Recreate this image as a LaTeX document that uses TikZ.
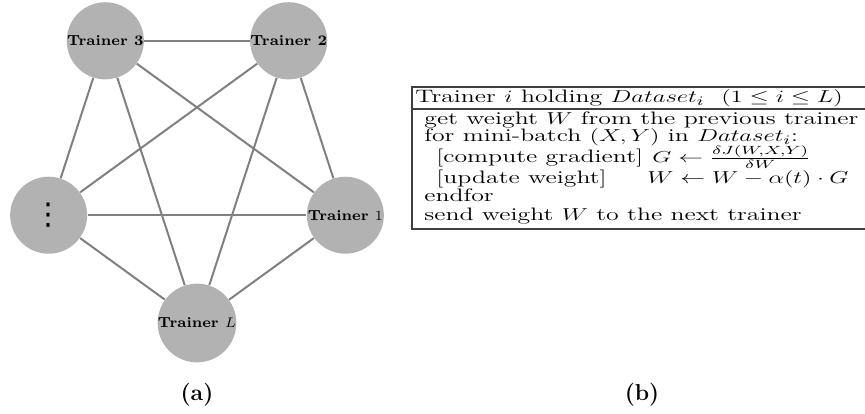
\documentclass[tikz,border=0pt]{standalone}
\usepackage{xcolor}
\usepackage{fontspec}
\usepackage{tikz}
\usetikzlibrary{positioning, calc}
\newfontfamily\dotsfont{DejaVu Sans}
\tikzstyle{trainer} = [circle, fill=black!30, minimum size=38.5pt, inner sep=0pt, font=\fontsize{7.3}{9}\selectfont\bfseries]
\tikzstyle{link} = [draw=black!50, line width=1pt]
\tikzstyle{row} = [anchor=base west, inner sep=0pt, font=\fontsize{12.5}{10}\selectfont]
\tikzstyle{frame} = [draw=black!75, line width=0.6pt]
\tikzstyle{caption} = [font=\fontsize{11.5}{13}\selectfont\bfseries]
\newcommand{\rowtext}[1]{\scalebox{1.03}[0.72]{#1}}

\begin{document}
\begin{tikzpicture}[x=0.5pt, y=0.5pt]
    \useasboundingbox (0,0) rectangle (865,413);

    % Trainers
    \coordinate (centre) at (197,246);
    \node[trainer] (tL) at ($(centre)+(-90:156)$) {Trainer $L$};
    \node[trainer] (t1) at ($(centre)+(-18:156)$) {Trainer $1$};
    \node[trainer] (t2) at ($(centre)+(54:156)$) {Trainer 2};
    \node[trainer] (t3) at ($(centre)+(126:156)$) {Trainer 3};
    \node[trainer, font=\fontsize{15}{17}\dotsfont] (tdots) at ($(centre)+(198:156)$) {⋮};

    % Links
    \draw[link] (t3) -- (t2);
    \draw[link] (t3) -- (tdots);
    \draw[link] (t3) -- (tL);
    \draw[link] (t3) -- (t1);
    \draw[link] (t2) -- (tdots);
    \draw[link] (t2) -- (tL);
    \draw[link] (t2) -- (t1);
    \draw[link] (tdots) -- (t1);
    \draw[link] (tdots) -- (tL);
    \draw[link] (tL) -- (t1);

    % Algorithm box
    \coordinate (boxtop) at (412,326);
    \coordinate (boxbot) at (412,184);
    \draw[frame] (866,326) -- (boxtop) -- (boxbot) -- (866,184);
    \draw[frame] (412,304) -- (866,304);

    \node[row] (head) at (415,310) {\rowtext{Trainer $i$ holding $Dataset_i$\ \ $(1 \le i \le L)$}};
    \node[row] (get) at (424,289) {\rowtext{get weight $W$ from the previous trainer}};
    \node[row] (loop) at (424,271) {\rowtext{for mini-batch $(X,Y)$ in $Dataset_i$:}};
    \node[row] (grad) at (436,251) {\rowtext{[compute gradient]}};
    \node[row] (gradeq) at (652,251) {\scalebox{1.03}[0.66]{$G \leftarrow \frac{\raisebox{0.8pt}{$\scriptstyle\delta J(W,X,Y)$}}{\raisebox{-0.8pt}{$\scriptstyle\delta W$}}$}};
    \node[row] (upd) at (436,230) {\rowtext{[update weight]}};
    \node[row] (updeq) at (647,230) {\rowtext{$W \leftarrow W - \alpha(t) \cdot G$}};
    \node[row] (endloop) at (424,212) {\rowtext{endfor}};
    \node[row] (send) at (424,193) {\rowtext{send weight $W$ to the next trainer}};

    % Captions
    \node[caption] (capa) at (197,18) {(a)};
    \node[caption] (capb) at (642,18) {(b)};
\end{tikzpicture}
\end{document}
